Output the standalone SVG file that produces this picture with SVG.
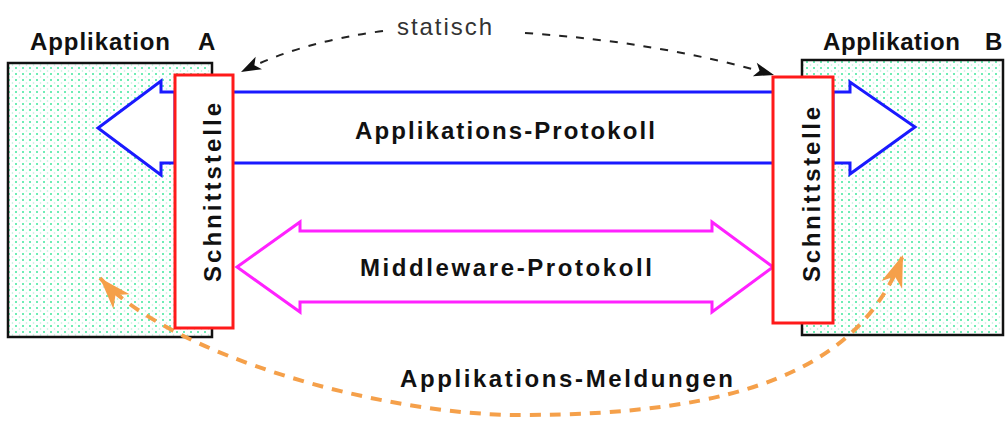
<svg xmlns="http://www.w3.org/2000/svg" width="1008" height="421" viewBox="0 0 1008 421">
  <defs>
    <pattern id="dots" width="7" height="6" patternUnits="userSpaceOnUse">
      <rect width="7" height="6" fill="#ffffff"/>
      <circle cx="2" cy="2" r="1" fill="#3fe89c"/>
      <circle cx="5.5" cy="5" r="0.8" fill="#b0f5d6"/>
    </pattern>
    <marker id="headBlack" viewBox="-22 -8 24 16" refX="0" refY="0" markerWidth="24" markerHeight="16" markerUnits="userSpaceOnUse" orient="auto-start-reverse">
      <path d="M0,0 L-20,-7 L-15,0 L-20,7 Z" fill="#111111"/>
    </marker>
    <marker id="headOrange" viewBox="-34 -13 36 26" refX="0" refY="0" markerWidth="36" markerHeight="26" markerUnits="userSpaceOnUse" orient="auto-start-reverse">
      <path d="M0,0 L-32,-11 L-23,0 L-32,11 Z" fill="#f5a04a"/>
    </marker>
    <style>
      .app { fill: url(#dots); stroke: #111111; stroke-width: 2.5; }
      .iface { fill: #ffffff; stroke: #ff1a1a; stroke-width: 3; }
      .blue { fill: #ffffff; stroke: #1a1aff; stroke-width: 3; stroke-linejoin: miter; }
      .magenta { fill: none; stroke: #ff22ff; stroke-width: 3; }
      .label { font-family: "Liberation Sans", Arial, sans-serif; font-weight: bold; font-size: 24px; fill: #111111; }
      .thin { font-family: "Liberation Sans", Arial, sans-serif; font-size: 24px; fill: #333333; }
      .static { fill: none; stroke: #222222; stroke-width: 2; stroke-dasharray: 8 9; }
      .msg { fill: none; stroke: #f5a04a; stroke-width: 4; stroke-dasharray: 11 9; }
    </style>
  </defs>

  <!-- Application A -->
  <g id="appA">
    <rect class="app" x="8" y="63" width="204" height="274"/>
    <text class="label" x="30" y="50" textLength="140" lengthAdjust="spacing">Applikation</text>
    <text class="label" x="198" y="50">A</text>
  </g>

  <!-- Application B -->
  <g id="appB">
    <rect class="app" x="802" y="60" width="201" height="275"/>
    <text class="label" x="823" y="50" textLength="137" lengthAdjust="spacing">Applikation</text>
    <text class="label" x="985" y="50">B</text>
  </g>

  <!-- Protocol arrows -->
  <g id="connectors">
    <!-- application protocol (blue double arrow) -->
    <polygon class="blue" points="175,92 161,92 161,81 98,128 161,175 161,163 175,163"/>
    <polygon class="blue" points="833,92 850,92 850,82 915,127 850,174 850,163 833,163"/>
    <line x1="233" y1="92" x2="773" y2="92" stroke="#1a1aff" stroke-width="3"/>
    <line x1="233" y1="163" x2="773" y2="163" stroke="#1a1aff" stroke-width="3"/>
    <!-- middleware protocol (magenta double arrow) -->
    <polygon class="magenta" points="237,267 300,222 300,231 712,231 712,222 773,267 712,312 712,302 300,302 300,312"/>
    <!-- static coupling -->
    <path class="static" d="M383,31 Q300,42 241,72" marker-end="url(#headBlack)"/>
    <path class="static" d="M525,33 Q660,42 774,75" marker-end="url(#headBlack)"/>
    <!-- application messages -->
    <path class="msg" d="M100,278 C170,355 380,415 520,415 C740,415 860,370 903,255" marker-start="url(#headOrange)" marker-end="url(#headOrange)"/>
  </g>

  <!-- Interface A -->
  <g id="ifaceA">
    <rect class="iface" x="175" y="75" width="58" height="253"/>
    <text class="label" transform="translate(221,282) rotate(-90)" x="0" y="0" textLength="179" lengthAdjust="spacing">Schnittstelle</text>
  </g>

  <!-- Interface B -->
  <g id="ifaceB">
    <rect class="iface" x="773" y="77" width="60" height="246"/>
    <text class="label" transform="translate(820,282) rotate(-90)" x="0" y="0" textLength="175" lengthAdjust="spacing">Schnittstelle</text>
  </g>

  <!-- Free labels -->
  <g id="labels">
    <text class="thin" x="397" y="35" textLength="95" lengthAdjust="spacing">statisch</text>
    <text class="label" x="355" y="139" textLength="300" lengthAdjust="spacing">Applikations-Protokoll</text>
    <text class="label" x="360" y="276" textLength="292" lengthAdjust="spacing">Middleware-Protokoll</text>
    <text class="label" x="400" y="387" textLength="333" lengthAdjust="spacing">Applikations-Meldungen</text>
  </g>
</svg>
